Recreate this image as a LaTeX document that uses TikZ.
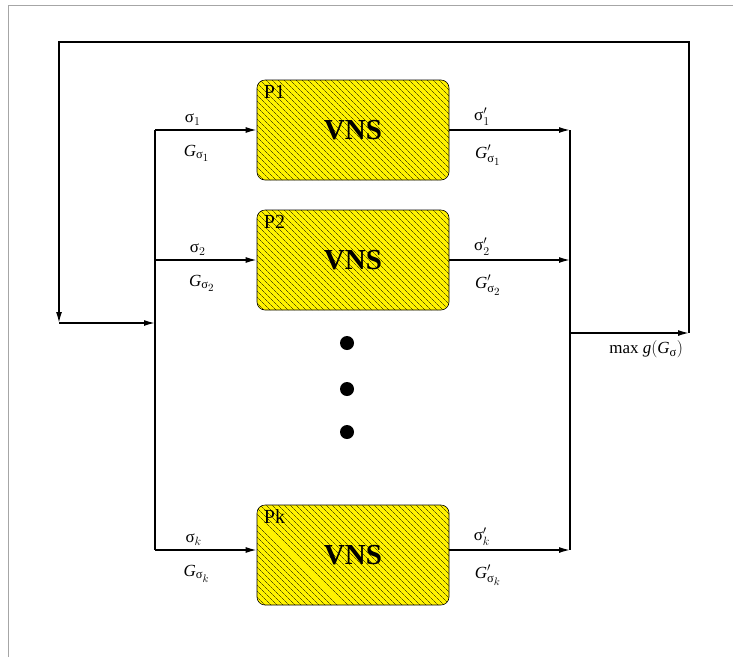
\documentclass[tikz,border=0pt]{standalone}
\usepackage{amsmath}
\usepackage{fontspec}
\setmainfont{Liberation Serif}
\usetikzlibrary{arrows.meta,patterns.meta}
\DeclareMathSizes{17}{17}{12.5}{10.5}

\newcommand{\sig}{\text{σ}}
\newcommand{\vG}{\textit{G}}

\tikzset{
  vns/.style={draw, line width=0.6pt, rounded corners=8pt, fill=yellow,
    postaction={pattern={Lines[angle=-45, distance=4pt, line width=0.4pt]}},
    minimum width=192pt, minimum height=100pt, inner sep=0pt,
    font=\fontsize{29}{32}\selectfont\bfseries},
  ptag/.style={anchor=north west, inner sep=0pt, font=\fontsize{20}{22}\selectfont},
  wire/.style={line width=1.5pt},
  link/.style={wire, -{Latex[length=11pt,width=6pt]}},
  lbl/.style={inner sep=1pt, font=\fontsize{17}{19}\selectfont},
  dot/.style={circle, fill, inner sep=0pt, minimum size=14pt}
}

\begin{document}
\begin{tikzpicture}[x=1pt,y=-1pt]
  \useasboundingbox (0,0) rectangle (733,657);
  % cut frame
  \draw[gray!70, line width=1pt] (8,657) -- (8,5) -- (733,5);
  % the k parallel searches
  \node[vns] (p1) at (353,130) {VNS};
  \node[vns] (p2) at (353,260) {VNS};
  \node[vns] (pk) at (353,555) {VNS};
  \foreach \b/\t in {p1/P1,p2/P2,pk/Pk} {\node[ptag] (\b tag) at ([shift={(7,5)}]\b.north west) {\t};}
  \node[dot] (d1) at (347,343) {};
  \node[dot] (d2) at (347,389) {};
  \node[dot] (d3) at (347,432) {};
  % split and join points
  \coordinate (in1) at (155,130); \coordinate (in2) at (155,260); \coordinate (ink) at (155,550);
  \coordinate (inm) at (155,323);
  \coordinate (out1) at (570,130); \coordinate (out2) at (570,260); \coordinate (outk) at (570,550);
  \coordinate (outm) at (570,333);
  \coordinate (fbr) at (689,333); \coordinate (fbtr) at (689,42);
  \coordinate (fbtl) at (59,42); \coordinate (fbl) at (59,323);
  % buses
  \draw[wire] (in1) -- (ink);
  \draw[wire] (out1) -- (outk);
  % inputs
  \draw[link] (in1) -- node[lbl,above=3pt,pos=0.37] {$\sig_1$} node[lbl,below=13pt,pos=0.41] {$\vG_{\sig_1}$} (in1 -| p1.west);
  \draw[link] (in2) -- node[lbl,above=3pt,pos=0.42] {$\sig_2$} node[lbl,below=13pt,pos=0.46] {$\vG_{\sig_2}$} (in2 -| p2.west);
  \draw[link] (ink) -- node[lbl,above=3pt,pos=0.38] {$\sig_k$} node[lbl,below=13pt,pos=0.41] {$\vG_{\sig_k}$} (ink -| pk.west);
  % outputs
  \draw[link] (out1 -| p1.east) -- node[lbl,above=3pt,pos=0.27] {$\sig'_1$} node[lbl,below=13pt,pos=0.32] {$\vG'_{\sig_1}$} (out1);
  \draw[link] (out2 -| p2.east) -- node[lbl,above=3pt,pos=0.27] {$\sig'_2$} node[lbl,below=13pt,pos=0.32] {$\vG'_{\sig_2}$} (out2);
  \draw[link] (outk -| pk.east) -- node[lbl,above=3pt,pos=0.27] {$\sig'_k$} node[lbl,below=13pt,pos=0.32] {$\vG'_{\sig_k}$} (outk);
  % best one goes back round
  \draw[link] (outm) -- node[lbl,below=6pt,pos=0.64] {$\text{max}\ \textit{g}(\vG_{\sig})$} (fbr);
  \draw[link] (fbr) -- (fbtr) -- (fbtl) -- (fbl);
  \draw[link] (fbl) -- (inm);
\end{tikzpicture}
\end{document}
